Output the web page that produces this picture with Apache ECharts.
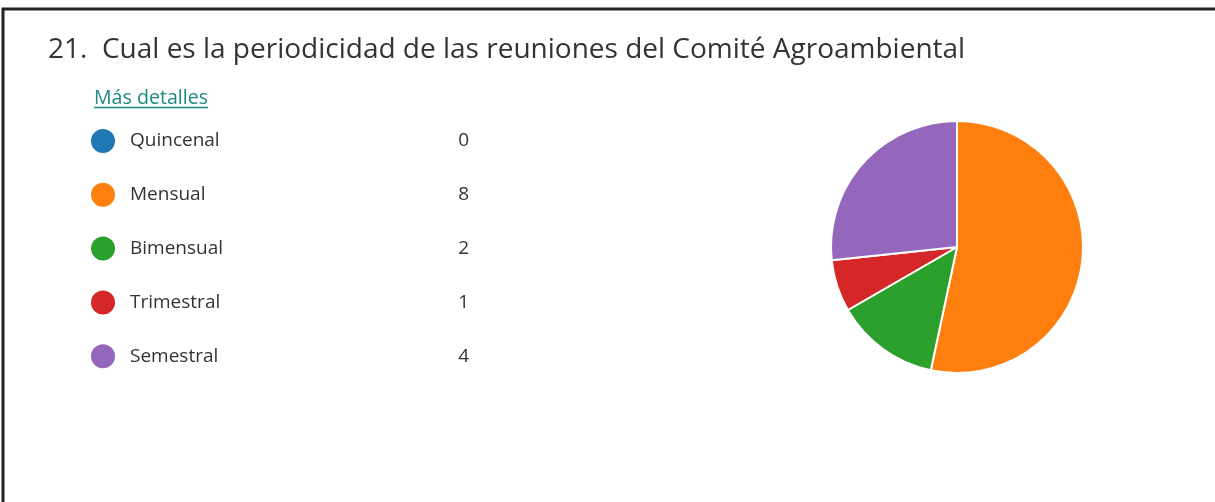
<!DOCTYPE html>
<html>
<head>
<meta charset="utf-8">
<script src="https://cdn.jsdelivr.net/npm/echarts@6/dist/echarts.min.js"></script>
<style>
  html, body { margin: 0; padding: 0; background: #fff; }
  #main { width: 1215px; height: 502px; }
</style>
</head>
<body>
<div id="main"></div>
<script>
// datos de la pregunta 21
var categorias = ['Quincenal', 'Mensual', 'Bimensual', 'Trimestral', 'Semestral'];
var respuestas = [0, 8, 2, 1, 4];
var colores = ['#1f77b4', '#ff7f0e', '#2ca02c', '#d62728', '#9467bd'];

var fuente = '"Open Sans", "Noto Sans", sans-serif';

var myChart = echarts.init(document.getElementById('main'));

var datos = categorias.map(function (c, i) {
  return { name: c, value: respuestas[i], itemStyle: { color: colores[i] } };
});

var option = {
  animation: false,
  title: {
    text: '21.  Cual es la periodicidad de las reuniones del Comité Agroambiental',
    left: 48,
    top: 36,
    padding: 0,
    textStyle: { fontFamily: fuente, fontSize: 28, fontWeight: 'normal', color: '#333' }
  },
  legend: {
    orient: 'vertical',
    left: 89,
    top: 127,
    padding: 0,
    icon: 'circle',
    itemWidth: 26,
    itemHeight: 26,
    itemGap: 25.8,
    selectedMode: false,
    data: categorias,
    formatter: function (name) {
      return '{n|' + name + '}{v|' + respuestas[categorias.indexOf(name)] + '}';
    },
    textStyle: {
      fontFamily: fuente,
      fontSize: 19,
      color: '#333',
      rich: {
        n: { fontFamily: fuente, fontSize: 19, color: '#333', width: 320, padding: [0, 0, 0, 9], lineHeight: 22 },
        v: { fontFamily: fuente, fontSize: 19, color: '#333', width: 19, align: 'right', lineHeight: 22 }
      }
    }
  },
  graphic: [
    {
      type: 'text',
      left: 94,
      top: 88,
      style: { text: 'Más detalles', font: '19.6px ' + fuente, fill: '#1b8a83' }
    },
    {
      type: 'line',
      shape: { x1: 94, y1: 107.5, x2: 208, y2: 107.5 },
      style: { stroke: '#1b8a83', lineWidth: 1.5 }
    },
    {
      type: 'polyline',
      shape: { points: [[3, 502], [3, 9], [1215, 9]] },
      style: { stroke: '#222', lineWidth: 3, fill: null }
    }
  ],
  series: [{
    type: 'pie',
    center: [957, 247],
    radius: 126,
    startAngle: 90,
    clockwise: true,
    label: { show: false },
    labelLine: { show: false },
    itemStyle: { borderColor: '#fff', borderWidth: 2 },
    data: datos
  }]
};

myChart.setOption(option);
</script>
</body>
</html>
